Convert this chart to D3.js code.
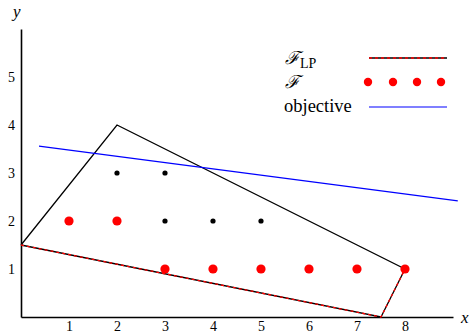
<!DOCTYPE html>
<html>
<head>
<meta charset="UTF-8" />
<title>Integer program</title>
<script src="https://d3js.org/d3.v7.min.js"></script>
<style>
body { margin: 0; background: #fff; }
text { font-family: "Liberation Serif", "DejaVu Serif", serif; }
.axis text { font-size: 14px; fill: #000; }
.axis path { stroke: #000; stroke-width: 1.6; }
</style>
</head>
<body>
<div id="chart"></div>
<script>
// data
var xTicks = [1, 2, 3, 4, 5, 6, 7, 8];
var yTicks = [1, 2, 3, 4, 5];
var polyX = [0, 2, 8, 7.5, 0];
var polyY = [1.5, 4, 1, 0, 1.5];
var lpX = [0, 7.5, 8];          // edges drawn dashed red (F_LP)
var lpY = [1.5, 0, 1];
var featX = [1, 2, 3, 4, 5, 6, 7, 8];   // red points (F)
var featY = [2, 2, 1, 1, 1, 1, 1, 1];
var innerX = [2, 3, 3, 4, 5];           // black points
var innerY = [3, 3, 2, 2, 2];
var objX = [0.375, 9.1];
var objY = [3.56, 2.42];
var legendLabels = ["LP", "", "objective"];

var width = 471, height = 336;

var x = d3.scaleLinear().domain([0, 9]).range([21, 453]);
var y = d3.scaleLinear().domain([0, 6]).range([317, 29]);

var svg = d3.select('#chart').append('svg')
    .attr('width', width)
    .attr('height', height);

// axes
svg.append('g')
    .attr('class', 'axis')
    .attr('transform', 'translate(0,' + y(0) + ')')
    .call(d3.axisBottom(x).tickValues(xTicks).tickSize(0).tickSizeOuter(0).tickPadding(4).tickFormat(d3.format('d')));

svg.append('g')
    .attr('class', 'axis')
    .attr('transform', 'translate(' + x(0) + ',0)')
    .call(d3.axisLeft(y).tickValues(yTicks).tickSize(0).tickSizeOuter(0).tickPadding(6).tickFormat(d3.format('d')));

svg.append('text').attr('x', 461).attr('y', 323)
    .style('font-style', 'italic').style('font-size', '17px').text('x');
svg.append('text').attr('x', 13).attr('y', 17)
    .style('font-style', 'italic').style('font-size', '17px').text('y');

var line = d3.line()
    .x(function(d) { return x(d[0]); })
    .y(function(d) { return y(d[1]); });

// polygon
svg.append('path')
    .attr('d', line(d3.zip(polyX, polyY)))
    .attr('fill', 'none')
    .attr('stroke', '#000')
    .attr('stroke-width', 1.3);

svg.append('path')
    .attr('d', line(d3.zip(lpX, lpY)))
    .attr('fill', 'none')
    .attr('stroke', '#ff0000')
    .attr('stroke-width', 1.3)
    .attr('stroke-dasharray', '3,3');

// objective
svg.append('path')
    .attr('d', line(d3.zip(objX, objY)))
    .attr('fill', 'none')
    .attr('stroke', '#0000ff')
    .attr('stroke-width', 1.1);

// points
svg.selectAll('.inner')
    .data(d3.zip(innerX, innerY))
    .enter().append('circle')
    .attr('cx', function(d) { return x(d[0]); })
    .attr('cy', function(d) { return y(d[1]); })
    .attr('r', 2.6)
    .attr('fill', '#000');

svg.selectAll('.feat')
    .data(d3.zip(featX, featY))
    .enter().append('circle')
    .attr('cx', function(d) { return x(d[0]); })
    .attr('cy', function(d) { return y(d[1]); })
    .attr('r', 4.6)
    .attr('fill', '#ff0000');

// legend
var lg = svg.append('g');
var rows = [58, 82, 107];

var t0 = lg.append('text').attr('x', 285).attr('y', rows[0] + 6).style('font-size', '18px');
t0.append('tspan').style('font-style', 'italic').text('\u2131');
t0.append('tspan').attr('dy', 4).style('font-size', '14px').text(legendLabels[0]);

lg.append('text').attr('x', 285).attr('y', rows[1] + 6).style('font-size', '18px')
    .style('font-style', 'italic').text('\u2131');

lg.append('text').attr('x', 284).attr('y', rows[2] + 5).style('font-size', '18.5px').text(legendLabels[2]);

lg.append('line').attr('x1', 369).attr('x2', 447).attr('y1', rows[0]).attr('y2', rows[0])
    .attr('stroke', '#000').attr('stroke-width', 1.3);
lg.append('line').attr('x1', 369).attr('x2', 447).attr('y1', rows[0]).attr('y2', rows[0])
    .attr('stroke', '#ff0000').attr('stroke-width', 1.3).attr('stroke-dasharray', '3,3');

lg.selectAll('.ld').data([368, 393, 417, 441]).enter().append('circle')
    .attr('cx', function(d) { return d; })
    .attr('cy', rows[1])
    .attr('r', 4.2)
    .attr('fill', '#ff0000');

lg.append('line').attr('x1', 369).attr('x2', 447).attr('y1', rows[2]).attr('y2', rows[2])
    .attr('stroke', '#0000ff').attr('stroke-width', 1.1);
</script>
</body>
</html>
